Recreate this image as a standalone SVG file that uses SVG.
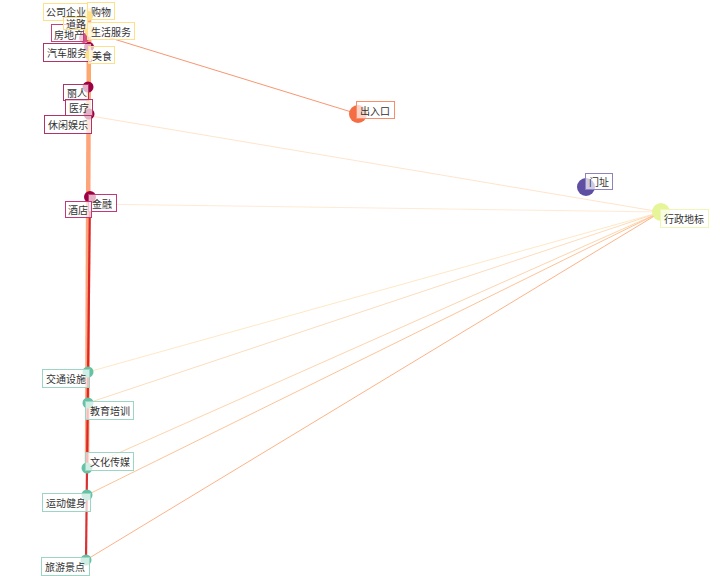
<svg xmlns="http://www.w3.org/2000/svg" width="720" height="576" viewBox="0 0 720 576">
  <style>
    text { font-family: "Noto Sans CJK SC", "Liberation Sans", sans-serif; font-size: 10px; fill: #333; dominant-baseline: central; }
    .lbl { fill: #ffffff; fill-opacity: 0.7; stroke-width: 1; }
    .edge { fill: none; }
  </style>
  <rect width="720" height="576" fill="#ffffff"/>

  <!-- connectors -->
  <g id="edges">
    <line class="edge" x1="89" y1="18" x2="87" y2="470" stroke="#fc8d59" stroke-width="4.5" stroke-opacity="0.8"/>
    <line class="edge" x1="90" y1="196" x2="86" y2="560" stroke="#d7191c" stroke-width="2.2" stroke-opacity="0.9"/>
    <line class="edge" x1="90" y1="40" x2="88" y2="120" stroke="#fdae61" stroke-width="3" stroke-opacity="0.6"/>
    <line class="edge" x1="91" y1="32" x2="358" y2="114" stroke="#f67c4e" stroke-width="1" stroke-opacity="0.8"/>
    <line class="edge" x1="661" y1="212" x2="90" y2="204" stroke="#fdd9b5" stroke-width="1" stroke-opacity="0.55"/>
    <line class="edge" x1="661" y1="212" x2="91" y2="116" stroke="#fdd9b5" stroke-width="1" stroke-opacity="0.7"/>
    <line class="edge" x1="661" y1="212" x2="88" y2="372" stroke="#fee6bf" stroke-width="1" stroke-opacity="0.9"/>
    <line class="edge" x1="661" y1="212" x2="88" y2="403" stroke="#fdd9b5" stroke-width="1" stroke-opacity="0.9"/>
    <line class="edge" x1="661" y1="212" x2="87" y2="467" stroke="#fdcfa4" stroke-width="1" stroke-opacity="0.9"/>
    <line class="edge" x1="661" y1="212" x2="87" y2="495" stroke="#fdbc8c" stroke-width="1" stroke-opacity="0.9"/>
    <line class="edge" x1="661" y1="212" x2="86" y2="560" stroke="#fcab7a" stroke-width="1" stroke-opacity="0.9"/>
  </g>

  <!-- nodes -->
  <g id="node-gouwu"><circle cx="89" cy="13" r="5" fill="#fee08b"/><rect class="lbl" x="87.5" y="2.5" width="27" height="17" stroke="#fee08b"/><text x="91" y="11">购物</text></g>
  <g id="node-gongsiqiye"><circle cx="88" cy="16" r="5" fill="#fee08b"/><rect class="lbl" x="43.5" y="3.5" width="44" height="17" stroke="#fee08b"/><text x="46" y="11.5">公司企业</text></g>
  <g id="node-fangdichan"><circle cx="84" cy="38" r="5" fill="#d45087"/><rect class="lbl" x="51.5" y="24.5" width="32" height="17" stroke="#c0457a"/><text x="54" y="34">房地产</text></g>
  <g id="node-daolu"><circle cx="88" cy="28" r="5" fill="#fee08b"/><rect class="lbl" x="63.5" y="17.5" width="24" height="12" stroke="#fee08b"/><text x="66" y="23.5">道路</text></g>
  <g id="node-shenghuofuwu"><circle cx="90" cy="32" r="5" fill="#fee08b"/><rect class="lbl" x="87.5" y="22.5" width="47" height="17" stroke="#fee08b"/><text x="91" y="31">生活服务</text></g>
  <g id="node-qichefuwu"><circle cx="89" cy="47" r="5" fill="#9e0142"/><rect class="lbl" x="43.5" y="43.5" width="48" height="18" stroke="#9e0142" stroke-opacity="0.8"/><text x="47" y="52.5">汽车服务</text></g>
  <g id="node-meishi"><circle cx="90" cy="55" r="5" fill="#fee08b"/><rect class="lbl" x="88.5" y="46.5" width="26" height="17" stroke="#fee08b"/><text x="92" y="55">美食</text></g>
  <g id="node-liren"><circle cx="88" cy="87" r="5.5" fill="#9e0142"/><rect class="lbl" x="63.5" y="84.5" width="25" height="16" stroke="#b0336a"/><text x="67" y="92.5">丽人</text></g>
  <g id="node-yiliao"><circle cx="89" cy="114" r="5.5" fill="#9e0142"/><rect class="lbl" x="65.5" y="99.5" width="27" height="16" stroke="#b0336a"/><text x="69" y="107.5">医疗</text></g>
  <g id="node-xiuxianyule"><rect class="lbl" x="44.5" y="115.5" width="47" height="18" stroke="#b0336a"/><text x="48" y="124.5">休闲娱乐</text></g>
  <g id="node-jinrong"><circle cx="90" cy="197" r="6" fill="#9e0142"/><rect class="lbl" x="88.5" y="194.5" width="28" height="17" stroke="#c2387a"/><text x="92" y="203">金融</text></g>
  <g id="node-jiudian"><rect class="lbl" x="65.5" y="201.5" width="26" height="16" stroke="#c2387a"/><text x="68" y="209.5">酒店</text></g>
  <g id="node-churukou"><circle cx="358" cy="114" r="9" fill="#f46d43"/><rect class="lbl" x="356.5" y="101.5" width="38" height="17" stroke="#f88e6a"/><text x="360" y="110">出入口</text></g>
  <g id="node-menzhi"><circle cx="586" cy="187" r="9" fill="#5e4fa2"/><rect class="lbl" x="585.5" y="173.5" width="27" height="16" stroke="#8e82c0"/><text x="589" y="181.5">门址</text></g>
  <g id="node-xingzhengdibiao"><circle cx="661" cy="212" r="9" fill="#e6f598"/><rect class="lbl" x="660.5" y="209.5" width="48" height="18" stroke="#eef7b8"/><text x="664" y="218.5">行政地标</text></g>
  <g id="node-jiaotongsheshi"><circle cx="88" cy="372" r="5.5" fill="#66c2a5"/><rect class="lbl" x="42.5" y="369.5" width="47" height="18" stroke="#9ad6c3"/><text x="46" y="378.5">交通设施</text></g>
  <g id="node-jiaoyupeixun"><circle cx="88" cy="403" r="5.5" fill="#66c2a5"/><rect class="lbl" x="85.5" y="401.5" width="48" height="18" stroke="#9ad6c3"/><text x="90" y="410.5">教育培训</text></g>
  <g id="node-wenhuachuanmei"><circle cx="87" cy="468" r="5.5" fill="#66c2a5"/><rect class="lbl" x="85.5" y="452.5" width="48" height="18" stroke="#9ad6c3"/><text x="90" y="461.5">文化传媒</text></g>
  <g id="node-yundongjianshen"><circle cx="87" cy="495" r="5.5" fill="#66c2a5"/><rect class="lbl" x="42.5" y="493.5" width="48" height="18" stroke="#9ad6c3"/><text x="46" y="502.5">运动健身</text></g>
  <g id="node-lvyoujingdian"><circle cx="86" cy="560" r="5.5" fill="#66c2a5"/><rect class="lbl" x="41.5" y="557.5" width="48" height="18" stroke="#9ad6c3"/><text x="45" y="566.5">旅游景点</text></g>
</svg>
